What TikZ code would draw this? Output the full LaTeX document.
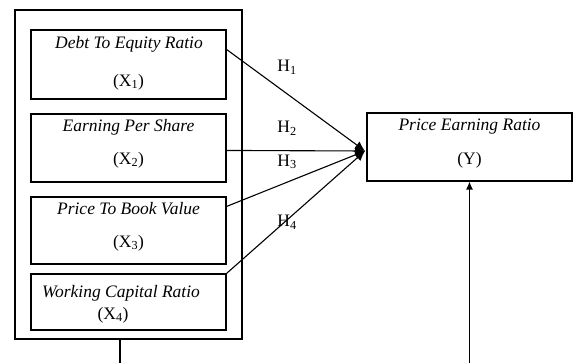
\documentclass[tikz,border=0pt]{standalone}
\usepackage{fontspec}
\setmainfont{Liberation Serif}
\usetikzlibrary{positioning,arrows.meta,calc}

\tikzset{
  varbox/.style={draw, line width=1.1pt, minimum width=195pt, inner sep=0pt},
  vname/.style={font=\fontsize{17.5}{19}\selectfont\itshape, inner sep=0pt},
  vsym/.style={font=\fontsize{17.5}{19}\selectfont, inner sep=0pt},
  hyp/.style={font=\fontsize{17.5}{19}\selectfont, inner sep=0pt},
  link/.style={line width=1.1pt, -{Latex[length=10pt,width=9pt]}},
}

\begin{document}
\begin{tikzpicture}[x=1pt, y=-1pt]
    \useasboundingbox (0,0) rectangle (577,363);
    % group of independent variables
    \node[draw, line width=1.1pt, minimum width=227pt, minimum height=329pt, inner sep=0pt] (grp) at (128.5,174.5) {};
    \node[varbox, minimum height=69pt] (dte) at (128.5,64.5) {};
    \node[varbox, minimum height=68pt] (eps) at (128.5,148) {};
    \node[varbox, minimum height=67pt] (pbv) at (128.5,230.5) {};
    \node[varbox, minimum height=56pt] (wcr) at (128.5,302) {};
    \node[vname] (dteT) at (129,44) {Debt To Equity Ratio};
    \node[vsym] (dteX) at (128.5,82) {(X\textsubscript{1})};
    \node[vname] (epsT) at (128.5,127) {Earning Per Share};
    \node[vsym] (epsX) at (128.5,160) {(X\textsubscript{2})};
    \node[vname] (pbvT) at (128.5,209) {Price To Book Value};
    \node[vsym] (pbvX) at (128.5,243) {(X\textsubscript{3})};
    \node[vname] (wcrT) at (121,293) {Working Capital Ratio};
    \node[vsym] (wcrX) at (113,315) {(X\textsubscript{4})};
    % dependent variable
    \node[draw, line width=1.1pt, minimum width=205pt, minimum height=68pt, inner sep=0pt] (per) at (469.5,147) {};
    \node[vname] (perT) at (469.5,127) {Price Earning Ratio};
    \node[vsym] (perY) at (469.5,160) {(Y)};
    % hypotheses
    \coordinate (tip) at (365,151);
    \draw[link] ($(dte.north east)+(0,20)$) -- (tip);
    \draw[link] ($(eps.north east)+(0,37)$) -- (tip);
    \draw[link] ($(pbv.north east)+(0,10)$) -- (tip);
    \draw[link] (wcr.north east) -- (tip);
    \node[hyp] (h1) at (287,67) {H\textsubscript{1}};
    \node[hyp] (h2) at (287,128) {H\textsubscript{2}};
    \node[hyp] (h3) at (287,162) {H\textsubscript{3}};
    \node[hyp] (h4) at (287,222) {H\textsubscript{4}};
    % lines leaving the picture
    \coordinate (down) at (120,363);
    \coordinate (up) at (469.5,363);
    \draw[line width=1.1pt] ($(grp.south)+(-8.5,0)$) -- (down);
    \draw[line width=1.1pt, -{Latex[length=8pt,width=7pt]}] (up) -- (per.south);
\end{tikzpicture}
\end{document}
